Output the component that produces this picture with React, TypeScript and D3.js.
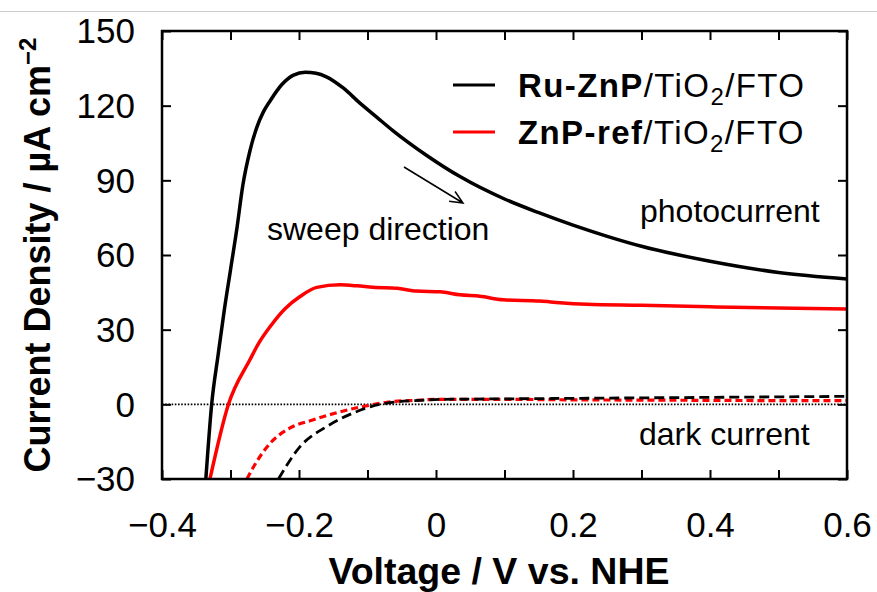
import * as d3 from "d3";
import { useRef, useEffect } from "react";

// photocurrent, Ru-ZnP (black solid)
const blackPhotoV = [-0.336, -0.3275, -0.318, -0.309, -0.3, -0.291, -0.282, -0.2715, -0.262, -0.252, -0.242, -0.225, -0.208, -0.191, -0.175, -0.16, -0.135, -0.111, -0.087, -0.063, -0.0135, 0.035, 0.1, 0.15, 0.2, 0.25, 0.3, 0.4, 0.5, 0.6];
const blackPhotoJ = [-30, 0, 20, 38, 54, 70, 88, 102, 111, 117.5, 122, 128.5, 132.3, 133.4, 133, 131.6, 127, 121, 115.5, 110, 100, 91.5, 82.5, 77, 72, 67.5, 63.5, 57.5, 53, 50.4];

// photocurrent, ZnP-ref (red solid)
const redPhotoV = [-0.33, -0.303, -0.2715, -0.26, -0.24, -0.22, -0.1985, -0.174, -0.14, -0.115, -0.092, -0.057, -0.028, 0.006, 0.035, 0.064, 0.098, 0.152, 0.181, 0.22, 0.3, 0.4, 0.5, 0.6];
const redPhotoJ = [-30, 0, 18, 24, 32, 38.5, 43.3, 47, 48, 47.6, 47, 46.6, 45.5, 45.2, 44, 43.4, 42, 41.5, 40.8, 40.2, 39.8, 39.2, 38.7, 38.3];

// dark current (dashed)
const blackDarkV = [-0.23, -0.1985, -0.16, -0.121, -0.096, -0.067, -0.03, 0.006, 0.1, 0.2, 0.3, 0.4, 0.5, 0.6];
const blackDarkJ = [-30, -17, -9, -3.5, -1, 0.7, 1.5, 2, 2.2, 2.4, 2.6, 2.8, 3, 3.2];
const redDarkV = [-0.276, -0.269, -0.242, -0.213, -0.18, -0.14, -0.096, -0.067, -0.03, 0.006, 0.1, 0.2, 0.3, 0.4, 0.5, 0.6];
const redDarkJ = [-30, -26.4, -15.6, -9.5, -6.3, -3, -0.3, 1, 1.6, 2, 2, 1.8, 1.7, 1.6, 1.5, 1.5];

const xTicks = [-0.4, -0.3, -0.2, -0.1, 0, 0.1, 0.2, 0.3, 0.4, 0.5, 0.6];
const yTicks = [-30, 0, 30, 60, 90, 120, 150];

const FONT = "'Liberation Sans', Arial, Helvetica, sans-serif";

const App = () => {
  const container = useRef(null);

  useEffect(() => {
    createChart();
  });

  const createChart = () => {
    const width = 877;
    const height = 592;
    const m = { l: 162, r: 847, t: 31, b: 479 };

    const svg = d3
      .select(container.current)
      .selectAll("svg")
      .data([0])
      .join("svg")
      .attr("width", width)
      .attr("height", height)
      .style("position", "absolute")
      .style("left", 0)
      .style("top", 0)
      .style("font-family", FONT);

    svg.selectAll("*").remove();

    svg.append("rect").attr("width", width).attr("height", height).attr("fill", "white");

    // grey separator at the very top
    svg
      .append("line")
      .attr("x1", 0)
      .attr("x2", width)
      .attr("y1", 11.5)
      .attr("y2", 11.5)
      .attr("stroke", "#cccccc")
      .attr("stroke-width", 1);

    const xScale = d3.scaleLinear().domain([-0.4, 0.6]).range([m.l, m.r]);
    const yScale = d3.scaleLinear().domain([-30, 150]).range([m.b, m.t]);

    svg
      .append("defs")
      .append("clipPath")
      .attr("id", "plot-clip")
      .append("rect")
      .attr("x", m.l)
      .attr("y", m.t)
      .attr("width", m.r - m.l)
      .attr("height", m.b - m.t);

    // zero line
    svg
      .append("line")
      .attr("x1", m.l)
      .attr("x2", m.r)
      .attr("y1", yScale(0))
      .attr("y2", yScale(0))
      .attr("stroke", "black")
      .attr("stroke-width", 1.6)
      .attr("stroke-dasharray", "1.6 1.6");

    const line = d3
      .line<[number, number]>()
      .x((d) => xScale(d[0]))
      .y((d) => yScale(d[1]))
      .curve(d3.curveMonotoneX);

    const series = [
      { v: redDarkV, j: redDarkJ, color: "#ff0000", dash: "7 4", w: 3.2 },
      { v: blackDarkV, j: blackDarkJ, color: "black", dash: "10 5", w: 2.8 },
      { v: redPhotoV, j: redPhotoJ, color: "#ff0000", dash: null, w: 3.5 },
      { v: blackPhotoV, j: blackPhotoJ, color: "black", dash: null, w: 3.5 },
    ];

    const plot_g = svg.append("g").attr("clip-path", "url(#plot-clip)");
    plot_g
      .selectAll(".curve")
      .data(series)
      .join("path")
      .attr("class", "curve")
      .attr("d", (s) => line(s.v.map((v, i) => [v, s.j[i]] as [number, number])))
      .attr("fill", "none")
      .attr("stroke", (s) => s.color)
      .attr("stroke-width", (s) => s.w)
      .attr("stroke-dasharray", (s) => s.dash);

    // axes
    const xFmt = (d) => {
      const k = Math.round(d * 10);
      if (k % 2 !== 0) return "";
      return d === 0 ? "0" : d3.format(".1f")(d);
    };

    const styleAxis = (g) => {
      g.select(".domain").remove();
      g.selectAll(".tick line").attr("stroke", "black").attr("stroke-width", 2);
      g.selectAll(".tick text")
        .attr("fill", "black")
        .style("font-family", FONT)
        .style("font-size", "35px");
    };

    svg
      .append("g")
      .attr("transform", `translate(0,${m.b})`)
      .call(d3.axisBottom(xScale).tickValues(xTicks).tickSizeInner(-9).tickSizeOuter(0).tickPadding(33).tickFormat(xFmt))
      .call(styleAxis);

    svg
      .append("g")
      .attr("transform", `translate(0,${m.t})`)
      .call(d3.axisTop(xScale).tickValues(xTicks).tickSizeInner(-9).tickSizeOuter(0).tickFormat(() => ""))
      .call(styleAxis);

    svg
      .append("g")
      .attr("transform", `translate(${m.l},0)`)
      .call(d3.axisLeft(yScale).tickValues(yTicks).tickSizeInner(-9).tickSizeOuter(0).tickPadding(27).tickFormat(d3.format("d")))
      .call(styleAxis)
      .selectAll(".tick text")
      .attr("dy", "0.34em");

    svg
      .append("g")
      .attr("transform", `translate(${m.r},0)`)
      .call(d3.axisRight(yScale).tickValues(yTicks).tickSizeInner(-9).tickSizeOuter(0).tickFormat(() => ""))
      .call(styleAxis);

    // frame
    svg
      .append("rect")
      .attr("x", m.l)
      .attr("y", m.t)
      .attr("width", m.r - m.l)
      .attr("height", m.b - m.t)
      .attr("fill", "none")
      .attr("stroke", "black")
      .attr("stroke-width", 2.5);

    // axis titles
    svg
      .append("text")
      .attr("x", 499)
      .attr("y", 584)
      .attr("text-anchor", "middle")
      .style("font-size", "37.5px")
      .style("font-weight", "bold")
      .text("Voltage / V vs. NHE");

    const yt = svg
      .append("text")
      .attr("transform", `translate(50,${(m.t + m.b) / 2}) rotate(-90)`)
      .attr("text-anchor", "middle")
      .style("font-size", "36px")
      .style("font-weight", "bold");
    yt.append("tspan").text("Current Density / µA cm");
    yt.append("tspan").attr("dy", -14).style("font-size", "24px").text("−2");

    // legend
    const legend = [
      { bold: "Ru-ZnP", color: "black", y: 85 },
      { bold: "ZnP-ref", color: "#ff0000", y: 132 },
    ];
    const lg = svg.selectAll(".legend").data(legend).join("g").attr("class", "legend");
    lg.append("line")
      .attr("x1", 453)
      .attr("x2", 495)
      .attr("y1", (d) => d.y)
      .attr("y2", (d) => d.y)
      .attr("stroke", (d) => d.color)
      .attr("stroke-width", 3);
    const lt = lg
      .append("text")
      .attr("x", 518)
      .attr("y", (d) => d.y + 12)
      .style("font-size", "33px")
      .style("letter-spacing", "1.4px");
    lt.append("tspan").style("font-weight", "bold").text((d) => d.bold);
    lt.append("tspan").text("/TiO");
    lt.append("tspan").attr("dy", 8).style("font-size", "24px").text("2");
    lt.append("tspan").attr("dy", -8).text("/FTO");

    // annotations
    const notes = [
      { text: "sweep direction", x: 267, y: 240 },
      { text: "photocurrent", x: 640, y: 222 },
      { text: "dark current", x: 639, y: 445 },
    ];
    svg
      .selectAll(".note")
      .data(notes)
      .join("text")
      .attr("class", "note")
      .attr("x", (d) => d.x)
      .attr("y", (d) => d.y)
      .style("font-size", "32px")
      .text((d) => d.text);

    // sweep arrow
    const ax1 = 404, ay1 = 167, ax2 = 463, ay2 = 203;
    const ang = Math.atan2(ay2 - ay1, ax2 - ax1);
    const hl = 14, ha = 0.42;
    svg
      .append("path")
      .attr(
        "d",
        `M${ax1},${ay1}L${ax2},${ay2}` +
          `M${ax2 - hl * Math.cos(ang - ha)},${ay2 - hl * Math.sin(ang - ha)}L${ax2},${ay2}` +
          `L${ax2 - hl * Math.cos(ang + ha)},${ay2 - hl * Math.sin(ang + ha)}`
      )
      .attr("fill", "none")
      .attr("stroke", "black")
      .attr("stroke-width", 1.5);

    return;
  };

  return <div ref={container}></div>;
};

export default App;
